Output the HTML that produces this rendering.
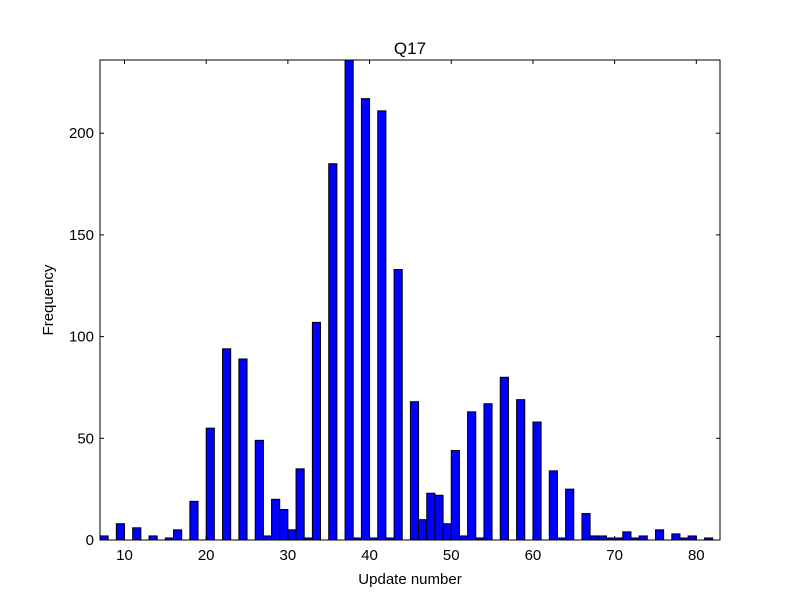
<!DOCTYPE html>
<html><head><meta charset="utf-8"><style>body{margin:0;background:#fff}svg{display:block;font-family:"Liberation Sans",sans-serif}</style></head>
<body>
<svg id="chart" width="800" height="600" viewBox="0 0 800 600" xmlns="http://www.w3.org/2000/svg">
<rect width="800" height="600" fill="#fff"/>
<g id="bars"></g>
<g id="axes"></g>
<text x="410" y="54" text-anchor="middle" font-size="17">Q17</text>
<text x="410" y="584" text-anchor="middle" font-size="15">Update number</text>
<text x="53" y="300" text-anchor="middle" font-size="15" transform="rotate(-90 53 300)">Frequency</text>
</svg>
<script>
const binStarts=[7,9,11,13,15,16,18,20,22,24,26,27,28,29,30,31,32,33,35,37,38,39,40,41,42,43,45,46,47,48,49,50,51,52,53,54,56,58,60,62,63,64,66,67,68,69,70,71,72,73,75,77,78,79,81];
const counts=[2,8,6,2,1,5,19,55,94,89,49,2,20,15,5,35,1,107,185,236,1,217,1,211,1,133,68,10,23,22,8,44,2,63,1,67,80,69,58,34,1,25,13,2,2,1,1,4,1,2,5,3,1,2,1];
const xTicks=[10,20,30,40,50,60,70,80];
const yTicks=[0,50,100,150,200];
const X0=100,X1=720,Y0=540,Y1=60,xmin=7,xmax=82.9,ymin=0,ymax=236;
const sx=v=>X0+(v-xmin)/(xmax-xmin)*(X1-X0);
const sy=v=>Y0-(v-ymin)/(ymax-ymin)*(Y0-Y1);
const NS="http://www.w3.org/2000/svg";
const bars=document.getElementById('bars');
binStarts.forEach((b,i)=>{
 const r=document.createElementNS(NS,'rect');
 r.setAttribute('x',sx(b));r.setAttribute('width',sx(b+1)-sx(b));
 r.setAttribute('y',sy(counts[i]));r.setAttribute('height',sy(0)-sy(counts[i]));
 r.setAttribute('fill','#0000ff');r.setAttribute('stroke','#000');r.setAttribute('stroke-width','1');
 
 
 bars.appendChild(r);
});
const ax=document.getElementById('axes');
function el(t,a){const e=document.createElementNS(NS,t);for(const k in a)e.setAttribute(k,a[k]);ax.appendChild(e);return e;}
const frame=el('rect',{x:X0,y:Y1,width:X1-X0,height:Y0-Y1,fill:'none',stroke:'#000','stroke-width':1});


xTicks.forEach(v=>{
 const x=sx(v);
 el('line',{x1:x,x2:x,y1:Y0,y2:Y0-4,stroke:'#000'});
 el('line',{x1:x,x2:x,y1:Y1,y2:Y1+4,stroke:'#000'});
 const t=el('text',{x:x,y:Y0+20,'text-anchor':'middle','font-size':15});
 t.textContent=v;
 
 
});
yTicks.forEach(v=>{
 const y=sy(v);
 el('line',{x1:X0,x2:X0+4,y1:y,y2:y,stroke:'#000'});
 el('line',{x1:X1,x2:X1-4,y1:y,y2:y,stroke:'#000'});
 const t=el('text',{x:X0-6,y:y+5,'text-anchor':'end','font-size':15});
 t.textContent=v;
 
 
});
</script>
</body></html>
